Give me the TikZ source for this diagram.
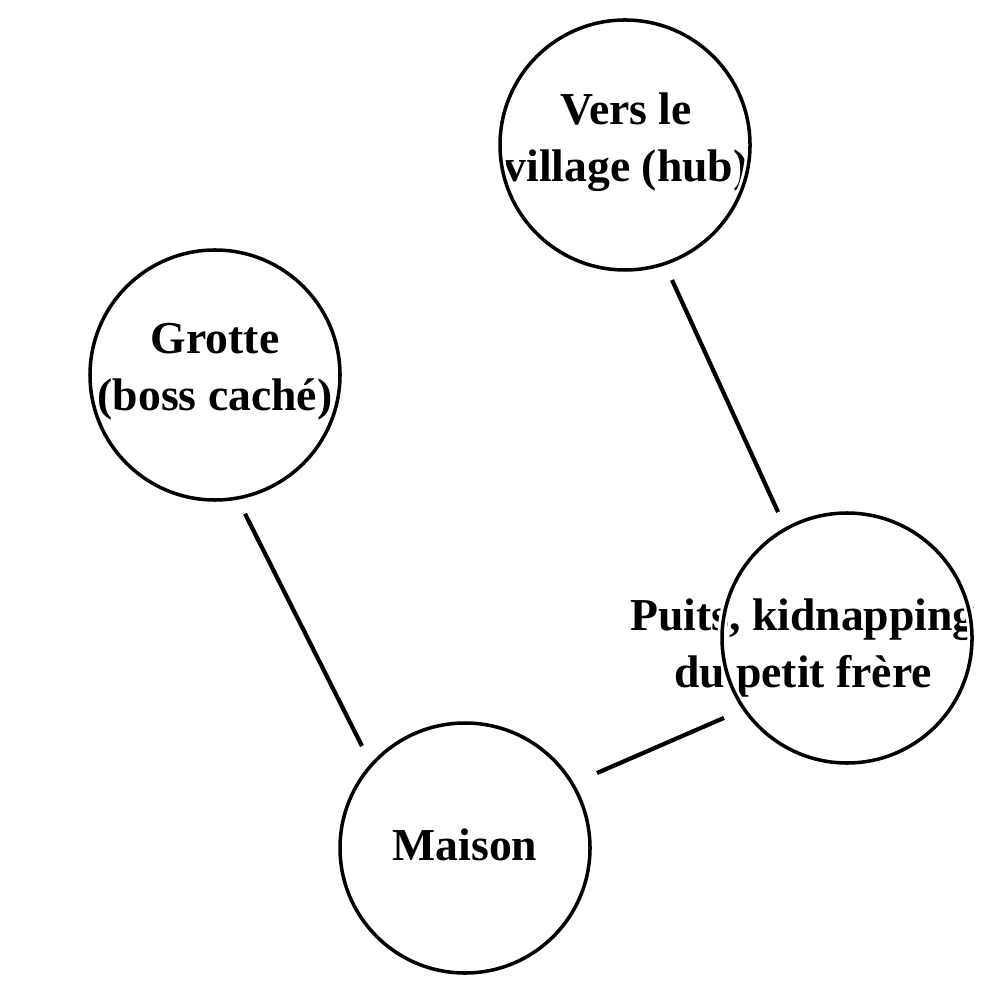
\documentclass[tikz,border=0pt]{standalone}
\usepackage{fontspec}
\setmainfont{Liberation Serif}
\begin{document}
\begin{tikzpicture}[
  place/.style={circle, minimum size=2.5cm, inner sep=0pt, outer sep=0pt,
    preaction={draw=white, line width=2.6pt}, draw=black, line width=1pt},
  lbl/.style={align=center, font=\bfseries\fontsize{13}{16.3}\selectfont, inner sep=0pt},
  link/.style={draw=black, line width=1.2pt}
]
\useasboundingbox (0,0) rectangle (10,-10);
\node[lbl] (tv) at (6.26,-1.42) {Vers le\\village (hub)};
\node[lbl] (tg) at (2.15,-3.72) {Grotte\\(boss caché)};
\node[lbl] (tp) at (8.03,-6.48) {Puits, kidnapping\\du petit frère};
\node[lbl] (tm) at (4.65,-8.45) {Maison};
\node[place] (v) at (6.25,-1.45) {};
\node[place] (g) at (2.15,-3.75) {};
\node[place] (p) at (8.47,-6.38) {};
\node[place] (m) at (4.65,-8.48) {};
\draw[link] ([shift={(-70.8:1.43)}]v.center) -- ([shift={(118.7:1.436)}]p.center);
\draw[link] ([shift={(-77.8:1.42)}]g.center) -- ([shift={(135.3:1.45)}]m.center);
\draw[link] ([shift={(29.6:1.518)}]m.center) -- ([shift={(213:1.467)}]p.center);
\end{tikzpicture}
\end{document}
